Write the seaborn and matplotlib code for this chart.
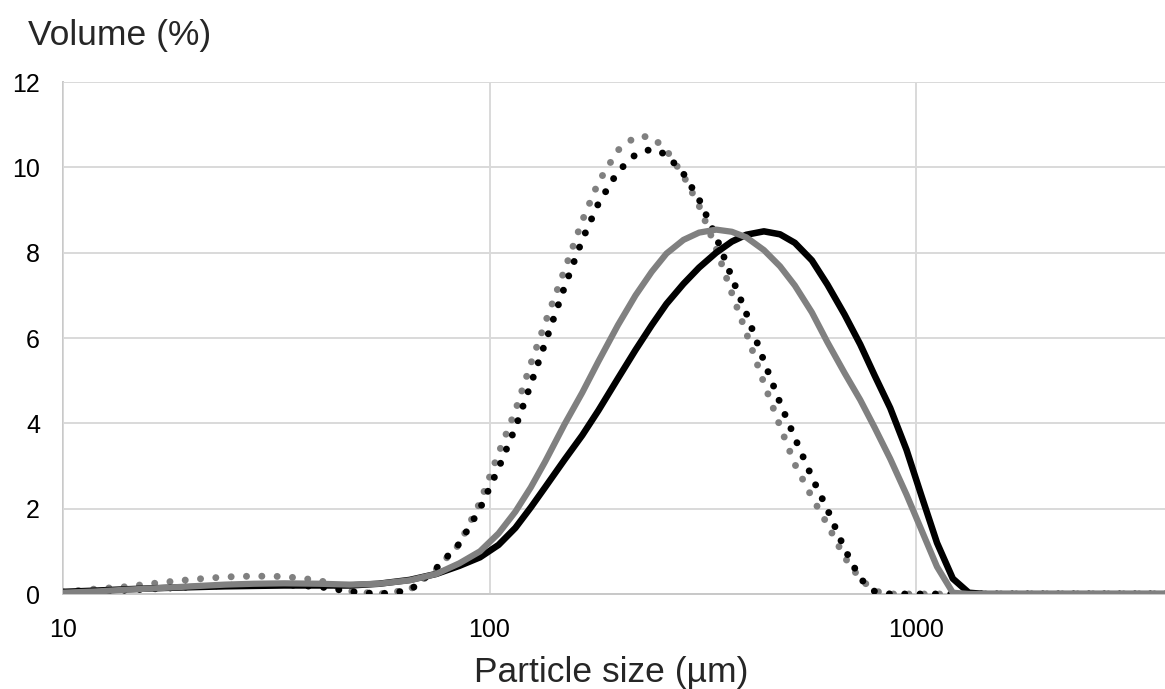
import matplotlib
matplotlib.use("Agg")
import matplotlib.pyplot as plt
import matplotlib.ticker as mticker
import seaborn as sns

# Particle size classes (µm)
sizes_um = [10, 12, 14, 17, 20, 24, 28, 33, 40, 47,
            55, 65, 75, 85, 95, 105, 115, 125, 135, 150,
            165, 180, 200, 220, 240, 260, 285, 310, 340, 370,
            400, 440, 480, 520, 570, 620, 680, 740, 800, 870,
            950, 1030, 1120, 1220, 1330, 1450, 2000, 3000, 4000]

# Volume distributions (%)
solid_black = [0.05, 0.08, 0.11, 0.14, 0.16, 0.18, 0.19, 0.20, 0.20, 0.20,
               0.24, 0.33, 0.47, 0.66, 0.86, 1.15, 1.55, 2.03, 2.50, 3.15,
               3.72, 4.30, 5.05, 5.72, 6.30, 6.80, 7.27, 7.65, 8.00, 8.26,
               8.42, 8.50, 8.43, 8.23, 7.82, 7.25, 6.55, 5.85, 5.12, 4.36,
               3.38, 2.30, 1.20, 0.36, 0.03, 0.0, 0.0, 0.0, 0.0]

solid_gray = [0.03, 0.06, 0.10, 0.14, 0.18, 0.22, 0.24, 0.25, 0.24, 0.22,
              0.24, 0.32, 0.47, 0.72, 1.00, 1.42, 1.93, 2.50, 3.10, 3.98,
              4.72, 5.45, 6.30, 7.00, 7.55, 7.98, 8.30, 8.47, 8.54, 8.49,
              8.36, 8.06, 7.68, 7.23, 6.60, 5.90, 5.18, 4.55, 3.90, 3.17,
              2.33, 1.50, 0.64, 0.03, 0.0, 0.0, 0.0, 0.0, 0.0]

dotted_black = [0.03, 0.06, 0.09, 0.13, 0.17, 0.20, 0.22, 0.22, 0.17, 0.06,
                0.0, 0.08, 0.60, 1.18, 2.00, 2.95, 3.90, 4.92, 5.88, 7.20,
                8.30, 9.15, 9.90, 10.30, 10.43, 10.30, 9.85, 9.25, 8.37, 7.42,
                6.58, 5.46, 4.48, 3.66, 2.74, 1.98, 1.06, 0.36, 0.06, 0.0,
                0.0, 0.0, 0.0, 0.0, 0.0, 0.0, 0.0, 0.0, 0.0]

dotted_gray = [0.05, 0.12, 0.17, 0.27, 0.34, 0.40, 0.42, 0.41, 0.32, 0.07,
               0.0, 0.10, 0.58, 1.17, 2.15, 3.30, 4.30, 5.40, 6.35, 7.60,
               8.75, 9.65, 10.40, 10.72, 10.72, 10.40, 9.80, 9.10, 8.10, 7.05,
               6.12, 4.94, 3.93, 3.04, 2.27, 1.63, 0.86, 0.35, 0.07, 0.0,
               0.0, 0.0, 0.0, 0.0, 0.0, 0.0, 0.0, 0.0, 0.0]

x_ticks = [10, 100, 1000]
y_ticks = [0, 2, 4, 6, 8, 10, 12]

BLACK = "#000000"
GRAY = "#808080"
GRID = "#d9d9d9"

sns.set_style("white")
plt.rcParams["font.family"] = ["Liberation Sans", "DejaVu Sans"]

fig = plt.figure(figsize=(11.65, 6.89), dpi=100)
ax = fig.add_axes([63 / 1165, 95 / 689, 1102 / 1165, 512 / 689])
ax.set_xscale("log")

dot_style = (0, (0.01, 2.2))
sns.lineplot(x=sizes_um, y=dotted_gray, ax=ax, color=GRAY, linewidth=5.0,
             linestyle=dot_style, dash_capstyle="round", estimator=None,
             sort=False, zorder=3)
sns.lineplot(x=sizes_um, y=dotted_black, ax=ax, color=BLACK, linewidth=5.0,
             linestyle=dot_style, dash_capstyle="round", estimator=None,
             sort=False, zorder=4)
sns.lineplot(x=sizes_um, y=solid_black, ax=ax, color=BLACK, linewidth=4.7,
             estimator=None, sort=False, zorder=5,
             solid_capstyle="round", solid_joinstyle="round")
sns.lineplot(x=sizes_um, y=solid_gray, ax=ax, color=GRAY, linewidth=4.5,
             estimator=None, sort=False, zorder=6,
             solid_capstyle="round", solid_joinstyle="round")

ax.set_xlim(10, 10 ** (1 + 1102 / 426.5))
ax.set_ylim(0, 12)
ax.xaxis.set_major_locator(mticker.FixedLocator(x_ticks))
ax.xaxis.set_major_formatter(mticker.FixedFormatter([str(t) for t in x_ticks]))
ax.xaxis.set_minor_locator(mticker.NullLocator())
ax.set_yticks(y_ticks)
ax.set_yticklabels([str(t) for t in y_ticks])

ax.grid(True, which="major", color=GRID, linewidth=1.4)
ax.set_axisbelow(True)
for side in ("top", "right"):
    ax.spines[side].set_visible(False)
for side in ("left", "bottom"):
    ax.spines[side].set_color("#c8c8c8")
    ax.spines[side].set_linewidth(1.4)
ax.spines["left"].set_zorder(0.5)

ax.tick_params(axis="both", length=0, labelsize=18, colors="#000000")
ax.tick_params(axis="y", pad=16.5)
ax.tick_params(axis="x", pad=17.5)
ax.set_xlabel("")
ax.set_ylabel("")

fig.text(28 / 1165, 1 - 45 / 689, "Volume (%)", fontsize=25.5,
         ha="left", va="baseline")
fig.text(611 / 1165, 1 - 682 / 689, "Particle size (µm)", fontsize=25.5,
         ha="center", va="baseline")

fig.savefig("out.png", dpi=100)
